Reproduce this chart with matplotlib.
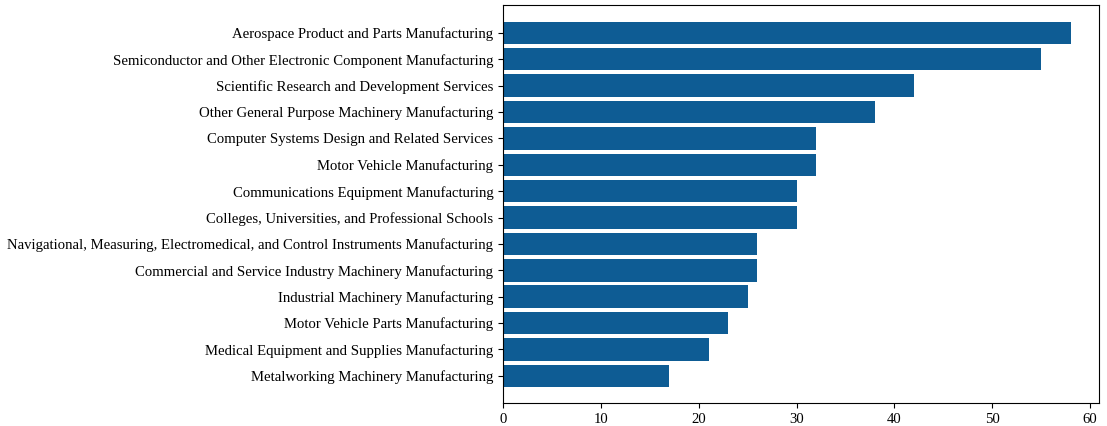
import matplotlib
matplotlib.use('Agg')
import matplotlib.pyplot as plt

industries = [
    'Aerospace Product and Parts Manufacturing',
    'Semiconductor and Other Electronic Component Manufacturing',
    'Scientific Research and Development Services',
    'Other General Purpose Machinery Manufacturing',
    'Computer Systems Design and Related Services',
    'Motor Vehicle Manufacturing',
    'Communications Equipment Manufacturing',
    'Colleges, Universities, and Professional Schools',
    'Navigational, Measuring, Electromedical, and Control Instruments Manufacturing',
    'Commercial and Service Industry Machinery Manufacturing',
    'Industrial Machinery Manufacturing',
    'Motor Vehicle Parts Manufacturing',
    'Medical Equipment and Supplies Manufacturing',
    'Metalworking Machinery Manufacturing',
]
counts = [58, 55, 42, 38, 32, 32, 30, 30, 26, 26, 25, 23, 21, 17]


def plot_counts(labels, values):
    plt.rcParams['font.family'] = ['Liberation Serif', 'DejaVu Serif']
    fig, ax = plt.subplots(figsize=(11.07, 4.26), dpi=100)
    fig.subplots_adjust(left=0.4544, right=0.9928, top=0.989, bottom=0.054)
    pos = range(len(labels))
    ax.barh(pos, values, height=0.85, color='#0e5c94')
    ax.set_yticks(list(pos))
    ax.set_yticklabels(labels, fontsize=10.6)
    ax.set_ylim(len(labels) - 1 + 1.03, -1.07)
    ax.tick_params(axis='x', labelsize=10.6)
    fig.savefig('out.png')


def main():
    plot_counts(industries, counts)


if __name__ == '__main__':
    main()
